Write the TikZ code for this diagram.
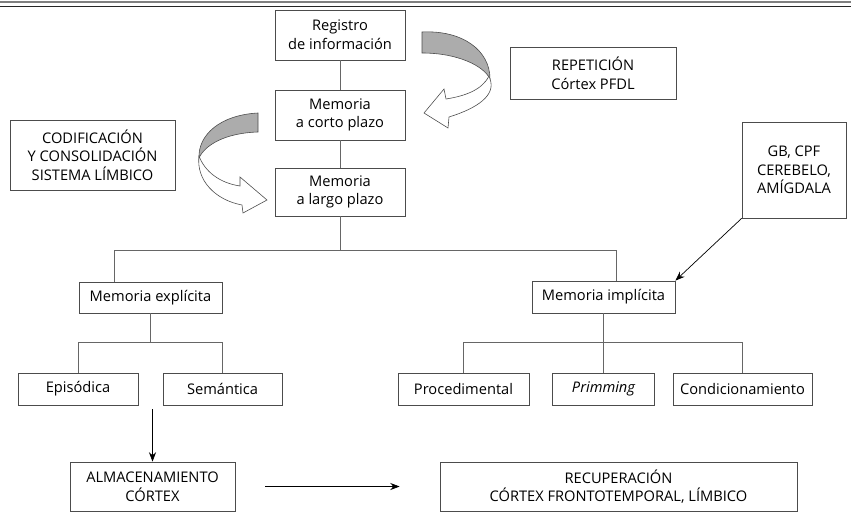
\documentclass[tikz,border=0pt]{standalone}
\usepackage{fontspec}
\setmainfont{Open Sans}
\usetikzlibrary{arrows.meta,positioning,calc}

\begin{document}
\begin{tikzpicture}[
  x=0.03cm, y=-0.03cm,
  every node/.style={font=\fontsize{12.5}{16}\selectfont},
  box/.style={draw=black!70, line width=0.6pt, align=center, inner sep=2pt},
  link/.style={draw=black!60, line width=0.6pt},
  rel/.style={-{Stealth[length=8pt,width=6pt]}, line width=0.6pt},
  ribbon/.style={draw=black!70, line width=0.5pt, fill=gray!65},
  twist/.style={draw=black!70, line width=0.5pt, fill=white}
]
\useasboundingbox (0,0) rectangle (851,512);

\draw[gray, line width=1.2pt] (0,2) -- (851,2);
\draw[black!85, line width=1.4pt] (0,6.5) -- (851,6.5);

\node[box, minimum width=3.9cm, minimum height=1.5cm] (registro) at (340,35) {Registro\\de información};
\node[box, minimum width=3.9cm, minimum height=1.5cm] (corto) at (340,115) {Memoria\\a corto plazo};
\node[box, minimum width=3.9cm, minimum height=1.44cm] (largo) at (340,192) {Memoria\\a largo plazo};
\node[box, minimum width=4.98cm, minimum height=1.56cm] (repeticion) at (593,73) {REPETICIÓN\\Córtex PFDL};
\node[box, minimum width=4.95cm, minimum height=2.1cm] (codifica) at (92.5,155) {CODIFICACIÓN\\Y CONSOLIDACIÓN\\SISTEMA LÍMBICO};
\node[box, minimum width=3.12cm, minimum height=2.88cm] (gb) at (794,170) {GB, CPF\\CEREBELO,\\AMÍGDALA};

\node[box, minimum width=4.29cm, minimum height=0.93cm] (explicita) at (150.5,297.5) {Memoria explícita};
\node[box, minimum width=4.29cm, minimum height=0.96cm] (implicita) at (603.5,297) {Memoria implícita};

\node[box, minimum width=3.6cm, minimum height=0.96cm] (episodica) at (78,389) {Episódica};
\node[box, minimum width=3.57cm, minimum height=0.96cm] (semantica) at (222.5,389) {Semántica};
\node[box, minimum width=3.93cm, minimum height=0.96cm] (procedimental) at (463.5,389) {Procedimental};
\node[box, minimum width=3.06cm, minimum height=0.96cm] (primming) at (603.5,389) {\itshape Primming};
\node[box, minimum width=4.17cm, minimum height=0.96cm] (condiciona) at (742.5,389) {Condicionamiento};

\node[box, minimum width=4.95cm, minimum height=1.47cm] (almacen) at (152.5,486.5) {ALMACENAMIENTO\\CÓRTEX};
\node[box, minimum width=10.71cm, minimum height=1.47cm] (recupera) at (618.5,486.5) {RECUPERACIÓN\\CÓRTEX FRONTOTEMPORAL, LÍMBICO};

\draw[link] (registro) -- (corto);
\draw[link] (corto) -- (largo);
\draw[link] (largo.south) -- ++(0,34) coordinate (ramal);
\draw[link] ([xshift=-1.07cm]explicita.north) |- (ramal) -| ([xshift=0.4cm]implicita.north);

\draw[link] (explicita.south) -- ++(0,29) coordinate (ramalexp);
\draw[link] (episodica.north) |- (ramalexp) -| (semantica.north);
\draw[link] (implicita.south) -- ++(0,29) coordinate (ramalimp);
\draw[link] (procedimental.north) |- (ramalimp) -| (condiciona.north);
\draw[link] (ramalimp) -- (primming.north);

\draw[rel] (gb.south west) -- (implicita.north east);
\coordinate (hueco) at (152.5,409);
\draw[rel] (hueco) -- (almacen.north);
\draw[rel, shorten <=0.9cm, shorten >=1.2cm] (almacen.east) -- (recupera.west);

\draw[ribbon] (422,32) .. controls (462,30) and (490,50) .. (490,79)
  .. controls (484,66) and (458,53) .. (422,53) -- cycle;
\draw[twist] (489,76) .. controls (482,90) and (465,96) .. (446,99) -- (444,89) -- (424,113)
  -- (448,128) -- (449,117) .. controls (478,108) and (496,95) .. (490,79) -- cycle;

\draw[ribbon] (258,113) .. controls (220,115) and (198,135) .. (199,158)
  .. controls (205,145) and (225,133) .. (258,132) -- cycle;
\draw[twist] (199,156) .. controls (205,172) and (220,183) .. (240,186) -- (240,177) -- (267,200)
  -- (243,213) -- (242,205) .. controls (215,200) and (196,180) .. (199,156) -- cycle;
\end{tikzpicture}
\end{document}
